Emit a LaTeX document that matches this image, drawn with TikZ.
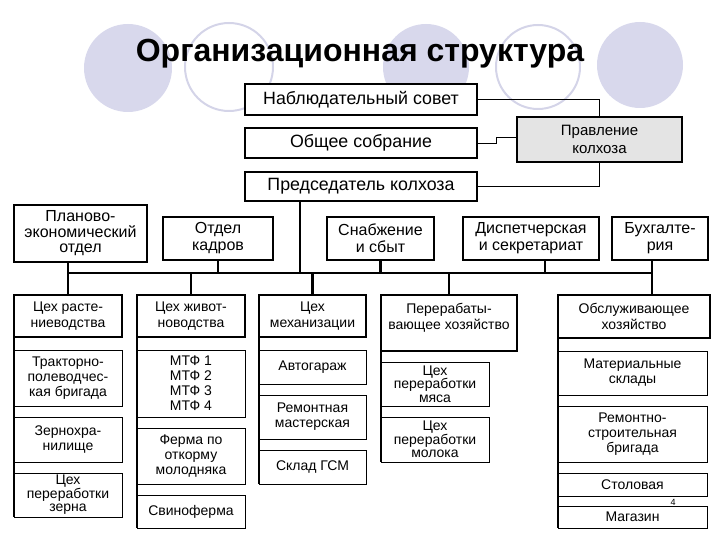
\documentclass[tikz,border=0pt]{standalone}
\usepackage{fontspec}
\setmainfont{Liberation Sans}
\usetikzlibrary{positioning}

\definecolor{lavfill}{RGB}{216,216,236}
\definecolor{lavline}{RGB}{212,212,232}
\definecolor{pravgray}{RGB}{228,228,228}

\begin{document}
\begin{tikzpicture}[
    x=1pt, y=-1pt,
    unit/.style={rectangle, draw=black, fill=white, line width=2.5pt, inner sep=0pt, outer sep=0pt, align=center},
    topbox/.style={unit, minimum width=232pt, font=\fontsize{17.8}{19}\selectfont},
    headbox/.style={unit, minimum height=43pt, font=\fontsize{16}{17}\selectfont},
    shopbox/.style={unit, minimum height=42pt, font=\fontsize{14}{16}\selectfont},
    subbox/.style={unit, line width=0.9pt, font=\fontsize{14}{15}\selectfont},
    link/.style={line width=0.9pt},
    bus/.style={line width=2.6pt},
    spine/.style={line width=2.6pt}
]
    \useasboundingbox (0,0) rectangle (720,540);

    % background circles
    \fill[lavfill] (128,68) circle (44pt);
    \fill[lavfill] (426,67) circle (43pt);
    \fill[lavfill] (640,65) circle (43pt);
    \draw[lavline, line width=2pt] (229,67) circle (44pt);
    \draw[lavline, line width=2pt] (538,67) circle (42pt);

    \node[anchor=base, font=\fontsize{32}{34}\selectfont\bfseries] (title) at (360,62) {Организационная структура};

    % management
    \node[topbox, minimum height=31pt] (nab) at (361,99.5) {Наблюдательный совет};
    \node[topbox, minimum height=30pt] (obsh) at (361,143) {Общее собрание};
    \node[topbox, minimum height=29pt] (pred) at (361,186.5) {Председатель колхоза};
    \node[unit, fill=pravgray, minimum width=165pt, minimum height=45pt, font=\fontsize{15}{18}\selectfont] (prav) at (599.5,139.5) {Правление\\колхоза};

    \draw[link] (nab.east) -| (prav.north);
    \draw[link] (pred.east) -| (prav.south);
    \draw[link] (obsh.east) -- ++(19,0) |- ([yshift=2pt]prav.west);

    % departments
    \node[headbox, minimum width=133pt, minimum height=57pt, font=\fontsize{16}{15.5}\selectfont] (plan) at (80.5,233.5) {Планово-\\экономический\\отдел};
    \node[headbox, minimum width=110pt] (kadr) at (218,238.5) {Отдел\\кадров};
    \node[headbox, minimum width=107pt] (snab) at (380.5,238.5) {Снабжение\\и сбыт};
    \node[headbox, minimum width=136pt] (disp) at (531,238.5) {Диспетчерская\\и секретариат};
    \node[headbox, minimum width=96pt] (buh) at (660,238.5) {Бухгалте-\\рия};

    \coordinate (busl) at (68,273);
    \coordinate (busr) at (652,273);
    \coordinate (pdrop) at (300,273);
    \draw[bus] (busl) -- (busr);
    \draw[bus] (pdrop |- pred.south) -- (pdrop);
    \draw[bus] (busl |- plan.south) -- (busl);
    \draw[bus] (kadr.south) -- (kadr.south |- busl);
    \draw[bus] (snab.south) -- (snab.south |- busl);
    \draw[bus] ([xshift=14pt]disp.south) -- ([xshift=14pt]disp.south |- busl);
    \draw[bus] (busr |- buh.south) -- (busr);

    % shops
    \node[shopbox, minimum width=108pt] (rast) at (68,316) {Цех расте-\\ниеводства};
    \node[shopbox, minimum width=108pt] (zhiv) at (191,316) {Цех живот-\\новодства};
    \node[shopbox, minimum width=107pt] (mech) at (312.5,316) {Цех\\механизации};
    \node[shopbox, minimum width=136pt, minimum height=56pt, text depth=14pt] (pere) at (449,323) {Перерабаты-\\вающее хозяйство};
    \node[shopbox, minimum width=152pt, minimum height=43pt] (obs) at (634,316.5) {Обслуживающее\\хозяйство};

    \draw[bus] (rast.north) -- (rast.north |- busl);
    \draw[bus] (zhiv.north) -- (zhiv.north |- busl);
    \draw[bus] (mech.north) -- (mech.north |- busl);
    \draw[bus] (pere.north) -- (pere.north |- busl);
    \draw[bus] (busr) -- (busr |- obs.north);

    % units under each shop
    \node[subbox, minimum width=108pt, minimum height=56pt, below right=13pt and 0pt of rast.south west] (trak) {Тракторно-\\полеводчес-\\кая бригада};
    \node[subbox, minimum width=108pt, minimum height=45pt, below right=11pt and 0pt of trak.south west] (zern) {Зернохра-\\нилище};
    \node[subbox, minimum width=108pt, minimum height=44pt, below right=11pt and 0pt of zern.south west, font=\fontsize{14}{13.5}\selectfont] (czern) {Цех\\переработки\\зерна};

    \node[subbox, minimum width=108pt, minimum height=67pt, below right=13pt and 0pt of zhiv.south west] (mtf) {МТФ 1\\МТФ 2\\МТФ 3\\МТФ 4};
    \node[subbox, minimum width=108pt, minimum height=56pt, below right=11pt and 0pt of mtf.south west] (ferm) {Ферма по\\откорму\\молодняка};
    \node[subbox, minimum width=108pt, minimum height=33pt, below right=11pt and 0pt of ferm.south west] (svin) {Свиноферма};

    \node[subbox, minimum width=107pt, minimum height=34pt, below right=13pt and 0pt of mech.south west] (avto) {Автогараж};
    \node[subbox, minimum width=107pt, minimum height=44pt, below right=11pt and 0pt of avto.south west] (remm) {Ремонтная\\мастерская};
    \node[subbox, minimum width=107pt, minimum height=34pt, below right=11pt and 0pt of remm.south west] (gsm) {Склад ГСМ};

    \node[subbox, minimum width=108pt, minimum height=44pt, below right=11pt and 0pt of pere.south west, font=\fontsize{14}{13.5}\selectfont] (myas) {Цех\\переработки\\мяса};
    \node[subbox, minimum width=108pt, minimum height=45pt, below right=11pt and 0pt of myas.south west, font=\fontsize{14}{13.5}\selectfont] (mol) {Цех\\переработки\\молока};

    \node[subbox, minimum width=149pt, minimum height=44pt, below right=13pt and 0pt of obs.south west] (mat) {Материальные\\склады};
    \node[subbox, minimum width=149pt, minimum height=56pt, below right=11pt and 0pt of mat.south west] (rsb) {Ремонтно-\\строительная\\бригада};
    \node[subbox, minimum width=149pt, minimum height=23pt, below right=11pt and 0pt of rsb.south west] (stol) {Столовая};
    \node[subbox, minimum width=149pt, minimum height=22pt, below right=10pt and 0pt of stol.south west] (mag) {Магазин};
    \node[font=\fontsize{9}{10}\selectfont] (pagenum) at (673,502) {4};

    \draw[spine] (rast.north west) -- (czern.south west);
    \draw[spine] (zhiv.north west) -- (svin.south west);
    \draw[spine] (mech.north west) -- (gsm.south west);
    \draw[spine] (pere.north west) -- (mol.south west);
    \draw[spine] (obs.north west) -- (mag.south west);
\end{tikzpicture}
\end{document}
